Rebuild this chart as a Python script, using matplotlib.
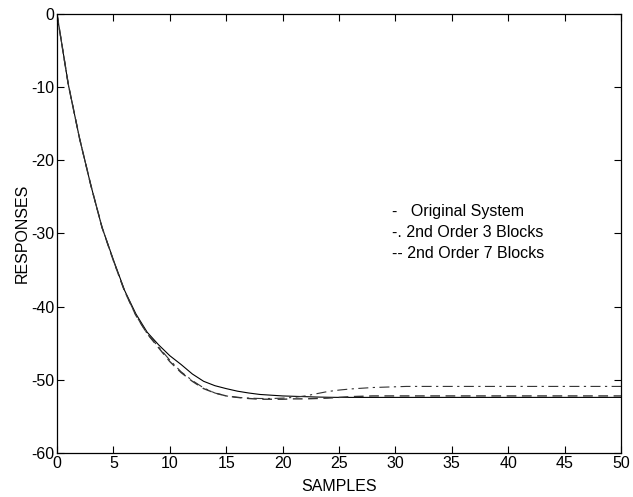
import numpy as np
import matplotlib
matplotlib.use("Agg")
import matplotlib.pyplot as plt

plt.rcParams['font.family'] = ['Liberation Sans', 'DejaVu Sans']
plt.rcParams['axes.unicode_minus'] = False

# sample index 0..50
samples = np.arange(0, 51)

# step responses
original = [0, -9.6, -17.0, -23.4, -29.2, -33.6, -37.8, -41.0, -43.5, -45.2,
            -46.7, -47.9, -49.2, -50.2, -50.8, -51.2, -51.55, -51.8, -52.0, -52.1,
            -52.2, -52.25, -52.3, -52.35, -52.38] + [-52.4] * 26
blocks3 = [0, -9.6, -17.0, -23.4, -29.2, -33.7, -37.9, -41.2, -43.7, -45.5,
           -47.3, -48.9, -50.1, -51.1, -51.8, -52.2, -52.4, -52.5, -52.55, -52.55,
           -52.5, -52.4, -52.2, -51.9, -51.6, -51.4, -51.25, -51.15, -51.05, -51.0,
           -50.95] + [-50.9] * 20
blocks7 = [0, -9.6, -17.0, -23.4, -29.2, -33.7, -37.9, -41.2, -43.7, -45.6,
           -47.5, -49.0, -50.2, -51.2, -51.8, -52.2, -52.4, -52.55, -52.65, -52.65,
           -52.65, -52.6, -52.6, -52.55, -52.5, -52.4, -52.3, -52.25] + [-52.2] * 23

legend_text = ['-   Original System', '-. 2nd Order 3 Blocks', '-- 2nd Order 7 Blocks']

fig = plt.figure(figsize=(6.33, 4.97), dpi=100)
ax = fig.add_axes([0.090, 0.0885, 0.891, 0.8835])

ax.plot(samples, original, color='black', linewidth=0.8, linestyle='-')
ax.plot(samples, blocks3, color='#333333', linewidth=0.8,
        linestyle=(0, (9, 4, 2, 4)))
ax.plot(samples, blocks7, color='#333333', linewidth=1.0,
        linestyle=(0, (7, 4)))

ax.set_xlim(0, 50)
ax.set_ylim(-60, 0)
ax.set_xticks(np.arange(0, 51, 5))
ax.set_yticks(np.arange(-60, 1, 10))
ax.tick_params(direction='in', top=True, right=True, length=5, width=0.8,
               labelsize=11.5, pad=2)
for s in ax.spines.values():
    s.set_linewidth(0.9)

ax.set_xlabel('SAMPLES', fontsize=11.5, va='center')
ax.set_ylabel('RESPONSES', fontsize=11.5, va='center')
ax.xaxis.set_label_coords(0.5, -0.077)
ax.yaxis.set_label_coords(-0.062, 0.5)

for i, t in enumerate(legend_text):
    ax.text(0.594, 0.549 - i * 0.047, t, transform=ax.transAxes,
            fontsize=11.5, va='center', ha='left')

fig.savefig('out.png', dpi=100)
